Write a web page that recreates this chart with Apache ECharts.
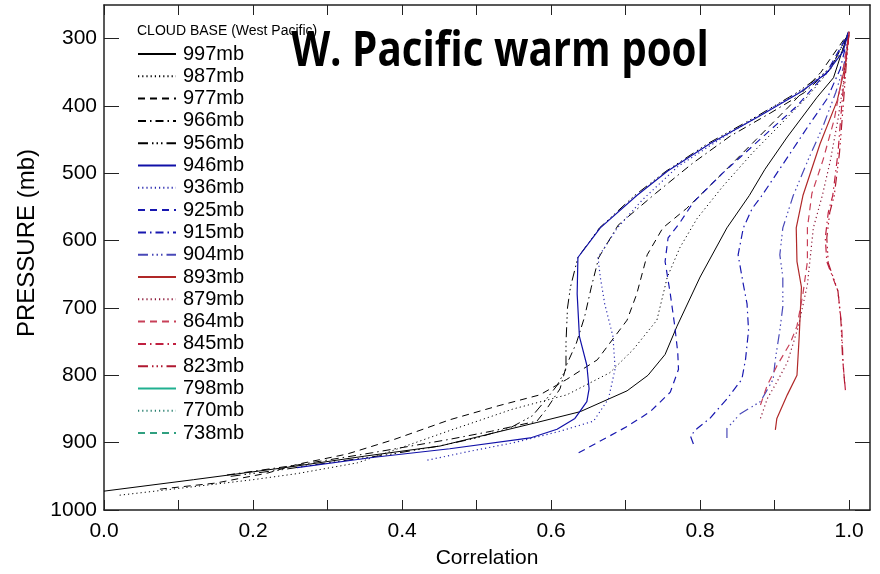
<!DOCTYPE html>
<html>
<head>
<meta charset="utf-8">
<script src="https://cdn.jsdelivr.net/npm/echarts@6/dist/echarts.min.js"></script>
<style>
  html, body { margin: 0; padding: 0; background: #fff; }
  #chart { width: 880px; height: 574px; }
</style>
</head>
<body>
<div id="chart"></div>
<script>
// cloud base names (legend)
const cloudBases = ['997mb', '987mb', '977mb', '966mb', '956mb', '946mb', '936mb', '925mb', '915mb',
  '904mb', '893mb', '879mb', '864mb', '845mb', '823mb', '798mb', '770mb', '738mb']

// [correlation, pressure], base upward
const cb997 = [[0.0, 972], [0.12, 955], [0.25, 936], [0.35, 920], [0.451, 905], [0.581, 870], [0.639, 854], [0.702, 823], [0.730, 800], [0.753, 769], [0.769, 727], [0.800, 654], [0.836, 581], [0.866, 533], [0.887, 494], [0.917, 446], [0.957, 387], [0.979, 358], [0.999, 290]]
const cb987 = [[0.021, 978], [0.10, 968], [0.20, 955], [0.259, 946], [0.34, 930], [0.374, 917], [0.464, 882], [0.549, 850], [0.621, 829], [0.679, 796], [0.710, 762], [0.742, 718], [0.756, 654], [0.773, 610], [0.796, 567], [0.83, 520], [0.87, 470], [0.91, 425], [0.945, 385], [0.975, 345], [1.0, 290]]
const cb977 = [[0.075, 969], [0.15, 960], [0.22, 945], [0.26, 932], [0.326, 917], [0.39, 895], [0.464, 866], [0.53, 845], [0.585, 829], [0.621, 806], [0.662, 777], [0.702, 718], [0.715, 679], [0.729, 621], [0.750, 581], [0.782, 552], [0.83, 500], [0.875, 450], [0.92, 400], [0.962, 350], [1.0, 290]]
const cb966 = [[0.165, 948], [0.26, 933], [0.36, 915], [0.464, 895], [0.52, 883], [0.581, 868], [0.594, 850], [0.612, 820], [0.621, 784], [0.634, 752], [0.645, 713], [0.654, 669], [0.664, 625], [0.69, 577], [0.74, 530], [0.79, 485], [0.84, 445], [0.895, 410], [0.94, 380], [0.975, 345], [1.0, 290]]
const cb956 = [[0.17, 950], [0.24, 940], [0.30, 930], [0.38, 918], [0.45, 905], [0.50, 893], [0.545, 878], [0.575, 860], [0.594, 835], [0.608, 815], [0.620, 791], [0.620, 752], [0.622, 700], [0.626, 669], [0.636, 625], [0.665, 581], [0.712, 533], [0.754, 497], [0.81, 456], [0.878, 414], [0.93, 380], [0.968, 350], [0.99, 320], [1.0, 290]]
const cb946 = [[0.259, 937], [0.36, 922], [0.464, 909], [0.572, 893], [0.608, 880], [0.632, 864], [0.648, 839], [0.651, 820], [0.648, 785], [0.638, 742], [0.635, 679], [0.636, 625], [0.666, 581], [0.715, 533], [0.756, 497], [0.813, 456], [0.881, 414], [0.934, 380], [0.970, 351], [0.992, 319], [0.999, 290]]
const cb936 = [[0.434, 926], [0.49, 913], [0.55, 900], [0.612, 883], [0.657, 868], [0.677, 835], [0.686, 790], [0.683, 742], [0.672, 694], [0.666, 654], [0.663, 625], [0.689, 581], [0.722, 540], [0.77, 490], [0.83, 447], [0.89, 407], [0.94, 375], [0.975, 345], [1.0, 290]]
const cb925 = [[0.637, 915], [0.702, 876], [0.733, 854], [0.760, 825], [0.771, 791], [0.770, 766], [0.766, 727], [0.760, 679], [0.753, 631], [0.757, 596], [0.773, 573], [0.791, 543], [0.83, 500], [0.88, 450], [0.93, 400], [0.97, 350], [1.0, 290]]
const cb915 = [[0.791, 902], [0.787, 890], [0.796, 879], [0.813, 864], [0.836, 835], [0.856, 806], [0.861, 776], [0.865, 733], [0.863, 694], [0.858, 665], [0.851, 621], [0.858, 581], [0.870, 552], [0.883, 533], [0.915, 480], [0.945, 430], [0.97, 390], [0.988, 345], [1.0, 290]]
const cb904 = [[0.836, 893], [0.836, 879], [0.854, 857], [0.881, 839], [0.898, 806], [0.901, 776], [0.907, 733], [0.911, 698], [0.911, 654], [0.907, 621], [0.911, 581], [0.925, 533], [0.945, 480], [0.965, 430], [0.982, 380], [0.993, 340], [1.0, 290]]
const cb893 = [[0.901, 881], [0.903, 864], [0.917, 829], [0.930, 800], [0.933, 742], [0.936, 669], [0.930, 631], [0.929, 581], [0.938, 533], [0.961, 456], [0.984, 392], [0.995, 339], [1.0, 290]]
const cb879 = [[0.881, 864], [0.890, 835], [0.903, 810], [0.917, 781], [0.932, 727], [0.944, 665], [0.952, 581], [0.964, 533], [0.975, 480], [0.985, 420], [0.993, 360], [1.0, 290]]
const cb864 = [[0.881, 844], [0.890, 815], [0.903, 786], [0.921, 752], [0.930, 727], [0.938, 679], [0.944, 631], [0.944, 581], [0.95, 530], [0.965, 480], [0.98, 420], [0.99, 360], [1.0, 290]]
const cb845 = [[0.995, 822], [0.992, 785], [0.990, 727], [0.985, 675], [0.970, 631], [0.968, 596], [0.972, 558], [0.978, 533], [0.985, 470], [0.99, 400], [0.995, 340], [1.0, 290]]
const cb823 = [[0.994, 812], [0.991, 770], [0.989, 720], [0.985, 675], [0.972, 633], [0.970, 596], [0.974, 558], [0.980, 533], [0.987, 470], [0.992, 400], [0.996, 340], [1.0, 290]]
const cb798 = []
const cb770 = []
const cb738 = []

const pressureTicks = [300, 400, 500, 600, 700, 800, 900, 1000]
const corrTicks = [0, 0.1, 0.2, 0.3, 0.4, 0.5, 0.6, 0.7, 0.8, 0.9, 1.0]
const corrLabels = [0, 0.2, 0.4, 0.6, 0.8, 1.0]

const seriesData = [cb997, cb987, cb977, cb966, cb956, cb946, cb936, cb925, cb915,
  cb904, cb893, cb879, cb864, cb845, cb823, cb798, cb770, cb738]

// IDL-like colours and linestyles
const lineColors = ['#000', '#000', '#000', '#000', '#000',
  '#1010a8', '#2a2ab0', '#1818b0', '#1818b0', '#4848b8',
  '#b02828', '#8c1838', '#c84058', '#c02040', '#b01830',
  '#20b090', '#2a8070', '#30a080']
const dot = [1.2, 3]
const dash = [7, 5]
const dashDot = [8, 4, 1.5, 4]
const dashDotDot = [10, 4, 1.5, 3, 1.5, 3, 1.5, 4]
const styleCycle = ['solid', dot, dash, dashDot, dashDotDot]

const chart = echarts.init(document.getElementById('chart'))
const font = 'Liberation Sans'

const series = cloudBases.map((name, i) => ({
  name,
  type: 'line',
  data: seriesData[i],
  symbol: 'none',
  showSymbol: false,
  animation: false,
  lineStyle: { color: lineColors[i], width: i >= 5 ? 1.2 : 1, type: styleCycle[i % 5] },
  itemStyle: { color: lineColors[i] }
}))

// frame: all four sides, ticks pointing into the plot
const frameLine = { show: true, onZero: false, lineStyle: { color: '#222', width: 1.5 } }
const xTick = { show: true, inside: true, length: 10, customValues: corrTicks, lineStyle: { color: '#222' } }
const yTick = { show: true, inside: true, length: 15, customValues: pressureTicks, lineStyle: { color: '#222' } }

const option = {
  animation: false,
  backgroundColor: '#fff',
  grid: { left: 104, right: 10, top: 5, bottom: 54 },
  legend: {
    data: cloudBases,
    orient: 'vertical',
    left: 137,
    top: 44,
    padding: 0,
    itemWidth: 38,
    itemHeight: 12,
    itemGap: 2.3,
    itemStyle: { opacity: 0 },
    textStyle: { fontFamily: font, fontSize: 20, color: '#000', lineHeight: 20, padding: [0, 0, 0, 2] }
  },
  xAxis: [{
    type: 'value',
    min: 0,
    max: 1.028,
    name: 'Correlation',
    nameLocation: 'middle',
    nameGap: 38,
    nameTextStyle: { fontFamily: font, fontSize: 21, color: '#000' },
    axisLine: frameLine,
    axisTick: xTick,
    axisLabel: { customValues: corrLabels, formatter: v => v.toFixed(1), margin: 11,
      fontFamily: font, fontSize: 21, color: '#000' },
    splitLine: { show: false }
  }, {
    type: 'value',
    position: 'top',
    min: 0,
    max: 1.028,
    axisLine: frameLine,
    axisTick: xTick,
    axisLabel: { show: false },
    splitLine: { show: false }
  }],
  yAxis: [{
    type: 'value',
    inverse: true,
    min: 250,
    max: 1000,
    axisLine: frameLine,
    axisTick: yTick,
    axisLabel: { customValues: pressureTicks, formatter: v => String(v), margin: 7,
      fontFamily: font, fontSize: 21, color: '#000' },
    splitLine: { show: false }
  }, {
    type: 'value',
    position: 'right',
    inverse: true,
    min: 250,
    max: 1000,
    axisLine: frameLine,
    axisTick: yTick,
    axisLabel: { show: false },
    splitLine: { show: false }
  }],
  graphic: [{
    type: 'text',
    x: 500,
    y: 52,
    scaleX: 0.84,
    style: { text: 'W. Pacific warm pool', font: 'bold 48px "Open Sans"', fill: '#000',
      textAlign: 'center', textVerticalAlign: 'middle' }
  }, {
    type: 'text',
    x: 137,
    y: 31,
    style: { text: 'CLOUD BASE (West Pacific)', font: '14px "Liberation Sans"', fill: '#000',
      textAlign: 'left', textVerticalAlign: 'middle' }
  }, {
    type: 'text',
    x: 27,
    y: 243,
    rotation: Math.PI / 2,
    style: { text: 'PRESSURE (mb)', font: '24px "Liberation Sans"', fill: '#000',
      textAlign: 'center', textVerticalAlign: 'middle' }
  }],
  series
}
chart.setOption(option)
</script>
</body>
</html>
